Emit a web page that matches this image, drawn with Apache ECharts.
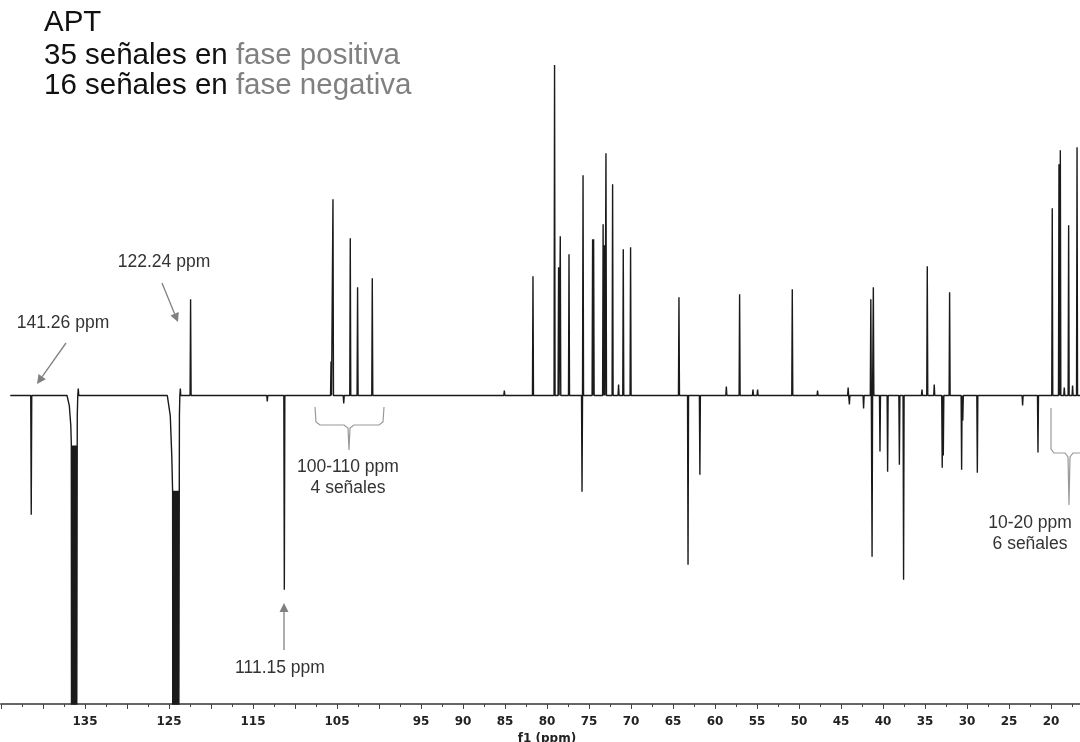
<!DOCTYPE html>
<html>
<head>
    <meta charset="utf-8">
    <title>APT</title>
    <script src="https://cdn.jsdelivr.net/npm/echarts@6/dist/echarts.min.js"></script>
    <style>
        html, body { margin: 0; padding: 0; background: #fff; }
        #main { width: 1080px; height: 742px; }
    </style>
</head>
<body>
<div id="main"></div>
<script>
    var peakShift = [141.40, 122.43, 113.3, 111.27, 105.71, 105.48, 104.2, 103.42, 102.55, 100.8,
        85.08, 81.67, 79.10, 78.62, 78.42, 77.38, 75.83, 75.71, 74.57, 74.45,
        73.32, 73.16, 72.98, 72.19, 71.48, 70.92, 70.05, 64.29, 63.21, 61.80,
        58.65, 57.07, 55.48, 54.93, 50.80, 47.79, 44.15, 44.0, 42.31, 41.45,
        41.30, 41.15, 40.36, 39.45, 38.05, 37.55, 35.36, 34.73, 33.9, 32.95,
        32.82, 32.07, 30.64, 30.5, 28.77, 23.38, 21.55, 19.85, 19.05, 18.89,
        18.42, 17.90, 17.43, 16.90];
    var peakHeight = [-119, 96, -6, -194, 34, 196, -8, 157, 108, 117,
        5, 119, 330, 128, 159, 141, -96, 220, 156, 156,
        171, 150, 242, 211, 11, 146, 148, 98, -169, -79,
        9, 101, 6, 6, 106, 5, 8, -9, -13, 96,
        -161, 108, -56, -76, -69, -184, 6, 129, 11, -72,
        -60, 103, -74, -25, -77, -10, -57, 187, 231, 245,
        8, 170, 10, 248];

    // las dos senales negativas grandes (recortadas por el eje)
    var band136 = [[137.14, 0], [136.87, -10], [136.69, -30], [136.63, -48], [136.60, -420], [136.55, -50],
        [136.50, -420], [136.45, -50], [136.40, -420], [136.35, -50], [136.30, -420], [136.25, -50],
        [136.20, -420], [136.15, -50], [136.10, -420], [136.05, -50], [136.00, -420], [135.95, -420],
        [135.92, -20], [135.86, 0], [135.80, 7], [135.74, 0]];
    var band124 = [[125.20, 0], [124.85, -20], [124.67, -60], [124.57, -95], [124.55, -420], [124.50, -95],
        [124.45, -420], [124.40, -95], [124.35, -420], [124.30, -95], [124.25, -420], [124.20, -95],
        [124.15, -420], [124.10, -95], [124.05, -420], [124.00, -95], [123.95, -420], [123.90, -95],
        [123.85, -420], [123.80, -420], [123.76, -20], [123.71, 0], [123.65, 7], [123.60, 0]];

    var axisLabels = [135, 125, 115, 105, 95, 90, 85, 80, 75, 70, 65, 60, 55, 50, 45, 40, 35, 30, 25, 20];
    var ppmStart = 143.9, ppmEnd = 16.5;

    // armar la traza: cada pico como aguja sobre la linea base
    var segs = [band136, band124];
    for (var i = 0; i < peakShift.length; i++) {
        var p = peakShift[i];
        segs.push([[p + 0.06, 0], [p, peakHeight[i]], [p - 0.06, 0]]);
    }
    segs.sort(function (a, b) { return b[0][0] - a[0][0]; });
    var trace = [[ppmStart, 0]];
    segs.forEach(function (s) { trace = trace.concat(s); });
    trace.push([ppmEnd, 0]);

    var gray = '#808080';
    var annFont = '17.5px "Liberation Sans", Arial, sans-serif';

    function arrow(x1, y1, x2, y2) {
        var dx = x2 - x1, dy = y2 - y1, L = Math.sqrt(dx * dx + dy * dy);
        var ux = dx / L, uy = dy / L, h = 9, w = 4.5;
        var bx = x2 - ux * h, by = y2 - uy * h;
        return [
            {type: 'line', shape: {x1: x1, y1: y1, x2: bx, y2: by}, style: {stroke: gray, lineWidth: 1.3}},
            {type: 'polygon', shape: {points: [[x2, y2], [bx - uy * w, by + ux * w], [bx + uy * w, by - ux * w]]},
                style: {fill: gray}}
        ];
    }
    function label(txt, x, y) {
        return {type: 'text', x: x, y: y, style: {text: txt, font: annFont, fill: '#333', align: 'center', verticalAlign: 'middle'}};
    }

    var titleFont = '29.5px "Liberation Sans", Arial, sans-serif';
    var graphics = [
        {type: 'text', x: 44, y: 23, style: {text: 'APT', font: titleFont, fill: '#111', verticalAlign: 'middle'}},
        {type: 'text', x: 44, y: 56, style: {text: '35 señales en {g|fase positiva}', font: titleFont, fill: '#111', verticalAlign: 'middle',
            rich: {g: {fill: gray, font: titleFont}}}},
        {type: 'text', x: 44, y: 86, style: {text: '16 señales en {g|fase negativa}', font: titleFont, fill: '#111', verticalAlign: 'middle',
            rich: {g: {fill: gray, font: titleFont}}}},
        label('141.26 ppm', 63, 323),
        label('122.24 ppm', 164, 262),
        label('111.15 ppm', 280, 668),
        label('100-110 ppm', 348, 467),
        label('4 señales', 348, 488),
        label('10-20 ppm', 1030, 523),
        label('6 señales', 1030, 544),
        {type: 'polyline', shape: {points: [[315, 407], [316, 422], [320, 425], [344, 425], [348, 428], [349, 450],
                [350, 428], [354, 425], [379, 425], [383, 422], [384, 407]]},
            style: {stroke: '#999', lineWidth: 1.2, fill: null}},
        {type: 'polyline', shape: {points: [[1051, 408], [1051, 449], [1054, 453], [1065, 453], [1068, 457], [1069, 505],
                [1070, 457], [1073, 453], [1090, 453]]},
            style: {stroke: '#999', lineWidth: 1.2, fill: null}}
    ].concat(arrow(66, 343, 37, 384), arrow(162, 283, 178, 322), arrow(284, 650, 284, 603));

    var myChart = echarts.init(document.getElementById('main'));
    var option = {
        animation: false,
        backgroundColor: '#fff',
        grid: {left: 1, width: 1092, top: 55, bottom: 38, outerBoundsMode: 'none', containLabel: false},
        xAxis: {
            type: 'value',
            min: 15,
            max: 145,
            interval: 5,
            inverse: true,
            axisLine: {onZero: false, lineStyle: {color: '#666', width: 2}},
            axisTick: {length: 5, lineStyle: {color: '#444'}},
            minorTick: {show: true, splitNumber: 2, length: 3, lineStyle: {color: '#444'}},
            splitLine: {show: false},
            axisLabel: {
                margin: 12,
                fontFamily: 'DejaVu Sans',
                fontWeight: 'bold',
                fontSize: 12,
                color: '#222',
                formatter: function (v) { return axisLabels.indexOf(v) >= 0 ? String(v) : ''; }
            },
            name: 'f1 (ppm)',
            nameLocation: 'middle',
            nameGap: 24,
            nameTextStyle: {fontFamily: 'DejaVu Sans', fontWeight: 'bold', fontSize: 12, color: '#222'}
        },
        yAxis: {type: 'value', min: -308, max: 340, show: false, splitLine: {show: false}},
        series: [{
            type: 'line',
            data: trace,
            showSymbol: false,
            clip: true,
            lineStyle: {color: '#1a1a1a', width: 1.4}
        }],
        graphic: graphics
    };
    myChart.setOption(option);
</script>
</body>
</html>
